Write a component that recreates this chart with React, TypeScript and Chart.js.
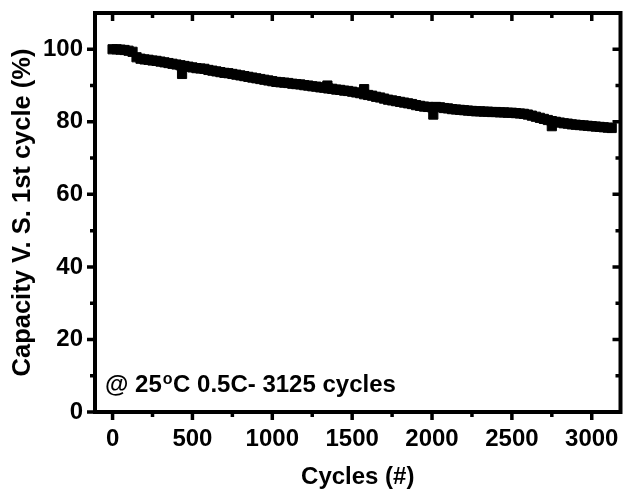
import React, { useEffect, useRef } from "react";
import { Chart, registerables } from "chart.js";

Chart.register(...registerables);

const FONT = '"Liberation Sans", Arial, Helvetica, sans-serif';

// Cycle number of each measured point
const cycles = [
  0, 25, 50, 75, 100, 125, 150, 175, 200, 225, 250, 275, 300, 325, 350, 375, 400, 425, 450, 475,
  500, 525, 550, 575, 600, 625, 650, 675, 700, 725, 750, 775, 800, 825, 850, 875, 900, 925, 950, 975,
  1000, 1025, 1050, 1075, 1100, 1125, 1150, 1175, 1200, 1225, 1250, 1275, 1300, 1325, 1350, 1375, 1400, 1425, 1450, 1475,
  1500, 1525, 1550, 1575, 1600, 1625, 1650, 1675, 1700, 1725, 1750, 1775, 1800, 1825, 1850, 1875, 1900, 1925, 1950, 1975,
  2000, 2025, 2050, 2075, 2100, 2125, 2150, 2175, 2200, 2225, 2250, 2275, 2300, 2325, 2350, 2375, 2400, 2425, 2450, 2475,
  2500, 2525, 2550, 2575, 2600, 2625, 2650, 2675, 2700, 2725, 2750, 2775, 2800, 2825, 2850, 2875, 2900, 2925, 2950, 2975,
  3000, 3025, 3050, 3075, 3100, 3125,
];

// Capacity retention (%) versus the 1st cycle
const capacity = [
  100.0, 100.0, 99.9, 99.8, 99.6, 99.3, 97.8, 97.4, 97.2, 97.1, 96.9, 96.8, 96.6, 96.4, 96.2, 96.0, 95.8, 95.6, 95.4, 95.2,
  95.0, 94.8, 94.7, 94.6, 94.3, 94.1, 93.9, 93.7, 93.5, 93.4, 93.2, 93.0, 92.8, 92.6, 92.4, 92.2, 92.0, 91.8, 91.6, 91.4,
  91.2, 91.0, 90.9, 90.8, 90.7, 90.5, 90.4, 90.3, 90.1, 90.0, 89.8, 89.7, 89.5, 89.4, 89.2, 89.1, 88.9, 88.8, 88.6, 88.5,
  88.3, 88.1, 87.9, 87.6, 87.4, 87.2, 86.9, 86.7, 86.4, 86.1, 85.9, 85.7, 85.5, 85.3, 85.1, 84.9, 84.6, 84.4, 84.2, 84.1,
  84.0, 84.1, 84.0, 83.8, 83.7, 83.5, 83.4, 83.3, 83.2, 83.1, 83.0, 82.9, 82.9, 82.8, 82.8, 82.7, 82.7, 82.6, 82.6, 82.5,
  82.5, 82.4, 82.3, 82.2, 82.0, 81.7, 81.4, 81.1, 80.8, 80.5, 80.2, 80.0, 79.8, 79.6, 79.5, 79.3, 79.2, 79.1, 79.0, 78.9,
  78.8, 78.7, 78.6, 78.5, 78.4, 78.3,
];

// Scattered single points that stick out of the band
const outlierCycles = [435, 1345, 1575, 2008, 2750];
const outlierCapacity = [93.2, 90.0, 89.0, 82.0, 78.8];

const xTicks = [0, 500, 1000, 1500, 2000, 2500, 3000];
const xMinorTicks = [250, 750, 1250, 1750, 2250, 2750];
const yTicks = [0, 20, 40, 60, 80, 100];
const yMinorTicks = [10, 30, 50, 70, 90];

const X_MIN = -110;
const X_MAX = 3180;
const Y_MIN = 0;
const Y_MAX = 110;

const xTitle = "Cycles (#)";
const yTitle = "Capacity V. S. 1st cycle (%)";
const notePre = "@ 25";
const noteSup = "o";
const notePost = "C 0.5C- 3125 cycles";

const framePlugin = {
  id: "frameAndNote",
  afterDraw(chart: any) {
    const { ctx, chartArea: a, scales } = chart;
    const sx = scales.x;
    const sy = scales.y;
    ctx.save();
    ctx.strokeStyle = "#000";
    ctx.lineCap = "butt";
    const major = 8;
    const minor = 5;
    ctx.lineWidth = 3.5;
    ctx.beginPath();
    for (const v of xTicks) {
      const p = sx.getPixelForValue(v);
      ctx.moveTo(p, a.bottom);
      ctx.lineTo(p, a.bottom + major);
      ctx.moveTo(p, a.top);
      ctx.lineTo(p, a.top + major);
    }
    for (const v of xMinorTicks) {
      const p = sx.getPixelForValue(v);
      ctx.moveTo(p, a.bottom);
      ctx.lineTo(p, a.bottom + minor);
      ctx.moveTo(p, a.top);
      ctx.lineTo(p, a.top + minor);
    }
    for (const v of yTicks) {
      const p = sy.getPixelForValue(v);
      ctx.moveTo(a.left, p);
      ctx.lineTo(a.left - major, p);
      ctx.moveTo(a.right, p);
      ctx.lineTo(a.right - major, p);
    }
    for (const v of yMinorTicks) {
      const p = sy.getPixelForValue(v);
      ctx.moveTo(a.left, p);
      ctx.lineTo(a.left - minor, p);
      ctx.moveTo(a.right, p);
      ctx.lineTo(a.right - minor, p);
    }
    ctx.stroke();
    ctx.lineWidth = 4;
    ctx.strokeRect(a.left, a.top, a.right - a.left, a.bottom - a.top);
    ctx.fillStyle = "#000";
    ctx.textBaseline = "alphabetic";
    ctx.textAlign = "left";
    let tx = a.left + 10;
    const ty = a.bottom - 20;
    ctx.font = `bold 24px ${FONT}`;
    ctx.fillText(notePre, tx, ty);
    tx += ctx.measureText(notePre).width + 1;
    ctx.font = `bold 16px ${FONT}`;
    ctx.fillText(noteSup, tx, ty - 8);
    tx += ctx.measureText(noteSup).width + 0.5;
    ctx.font = `bold 24px ${FONT}`;
    ctx.fillText(notePost, tx, ty);
    ctx.restore();
  },
};

export default function App() {
  const canvasRef = useRef<HTMLCanvasElement | null>(null);

  useEffect(() => {
    const canvas = canvasRef.current;
    if (!canvas) return;
    const mainPoints = cycles.map((c, i) => ({ x: c, y: capacity[i] }));
    const extraPoints = outlierCycles.map((c, i) => ({ x: c, y: outlierCapacity[i] }));
    const pointStyle = {
      pointStyle: "rect" as const,
      pointRadius: 6.5,
      pointHoverRadius: 6.5,
      backgroundColor: "#000",
      borderColor: "#000",
      borderWidth: 1,
      showLine: false,
    };
    const chart = new Chart(canvas, {
      type: "scatter",
      data: {
        datasets: [
          { label: "main", data: mainPoints, ...pointStyle },
          { label: "extra", data: extraPoints, ...pointStyle },
        ],
      },
      plugins: [framePlugin],
      options: {
        animation: false,
        responsive: true,
        maintainAspectRatio: false,
        layout: { padding: { top: 13, right: 4, left: 0, bottom: 0 } },
        plugins: {
          legend: { display: false },
          tooltip: { enabled: false },
        },
        scales: {
          x: {
            type: "linear",
            min: X_MIN,
            max: X_MAX,
            afterBuildTicks: (scale: any) => {
              scale.ticks = xTicks.map((v) => ({ value: v }));
            },
            afterFit: (scale: any) => {
              scale.height = 82;
              scale.paddingLeft = 0;
              scale.paddingRight = 0;
              scale.paddingTop = 0;
              scale.paddingBottom = 0;
            },
            grid: { display: false, drawTicks: false },
            border: { display: false },
            ticks: {
              padding: 13,
              color: "#000",
              font: { family: FONT, size: 24, weight: "bold" },
              maxRotation: 0,
              autoSkip: false,
              callback: (v: any) => String(v),
            },
            title: {
              display: true,
              text: xTitle,
              color: "#000",
              font: { family: FONT, size: 24, weight: "bold" },
              padding: { top: 0, bottom: 2 },
            },
          },
          y: {
            type: "linear",
            min: Y_MIN,
            max: Y_MAX,
            afterBuildTicks: (scale: any) => {
              scale.ticks = yTicks.map((v) => ({ value: v }));
            },
            afterFit: (scale: any) => {
              scale.width = 95;
              scale.paddingLeft = 0;
              scale.paddingRight = 0;
              scale.paddingTop = 0;
              scale.paddingBottom = 0;
            },
            grid: { display: false, drawTicks: false },
            border: { display: false },
            ticks: {
              padding: 12,
              color: "#000",
              font: { family: FONT, size: 24, weight: "bold" },
              autoSkip: false,
              callback: (v: any) => String(v),
            },
            title: {
              display: true,
              text: yTitle,
              color: "#000",
              font: { family: FONT, size: 25.5, weight: "bold" },
              padding: { top: 8, bottom: 0 },
            },
          },
        },
      },
    });
    return () => chart.destroy();
  }, []);

  return (
    <div
      style={{
        position: "fixed",
        left: 0,
        top: 0,
        width: 628,
        height: 494,
        background: "#fff",
      }}
    >
      <canvas ref={canvasRef} />
    </div>
  );
}
